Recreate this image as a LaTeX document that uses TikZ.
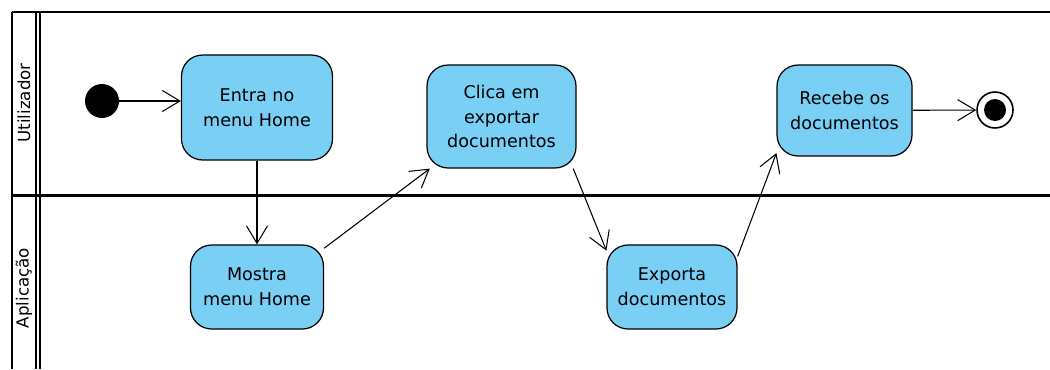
\documentclass[tikz,border=0pt]{standalone}
\usepackage{fontspec}
\setmainfont{DejaVu Sans}
\usetikzlibrary{arrows.meta, positioning}
\definecolor{actblue}{RGB}{122,207,244}

\begin{document}
\begin{tikzpicture}[
            x=0.02cm, y=-0.02cm,
            action/.style={
                rectangle, draw, line width=0.7pt, fill=actblue,
                rounded corners=12pt, align=center, inner sep=0pt,
                font=\fontsize{10}{14}\selectfont
            },
            lanelabel/.style={rotate=90, font=\fontsize{9.5}{11}\selectfont},
            flow/.style={-{Straight Barb[length=10pt, width=12pt]}, line width=0.6pt}
        ]
        \useasboundingbox (0, 0) rectangle (1050, 369);

        % swimlanes
        \draw[line width=1.1pt] (12, 12) -- (1050, 12);
        \draw[line width=1.7pt] (12, 195) -- (1050, 195);
        \draw[line width=1.1pt] (12, 12) -- (12, 369);
        \draw[line width=0.7pt] (36, 12) -- (36, 369);
        \draw[line width=1.7pt] (40, 12) -- (40, 369);
        \node[lanelabel] (laneU) at (24, 103) {Utilizador};
        \node[lanelabel] (laneA) at (24, 288) {Aplicação};

        % start / end
        \node[circle, fill=black, minimum size=0.68cm, inner sep=0pt] (init) at (102, 101) {};
        \node[circle, draw, line width=0.9pt, fill=white, minimum size=0.72cm, inner sep=0pt] (fim) at (995, 110) {};
        \fill (fim.center) circle (11);

        % actions
        \node[action, minimum width=3.02cm, minimum height=2.10cm] (entra) at (257, 107.5) {Entra no\\menu Home};
        \node[action, minimum width=2.66cm, minimum height=1.68cm] (mostra) at (257, 287) {Mostra\\menu Home};
        \node[action, minimum width=2.98cm, minimum height=2.06cm] (clica) at (501.5, 116.5) {Clica em\\exportar\\documentos};
        \node[action, minimum width=2.60cm, minimum height=1.68cm] (exporta) at (672, 287) {Exporta\\documentos};
        \node[action, minimum width=2.70cm, minimum height=1.82cm] (recebe) at (844.5, 110.5) {Recebe os\\documentos};

        % flows
        \draw[flow] (init) -- (init -| entra.west);
        \draw[flow] (entra) -- (mostra);
        \draw[flow] (mostra.30) -- (clica.216);
        \draw[flow] (clica.-36) -- (exporta.151);
        \draw[flow] (exporta.25) -- (recebe.212);
        \draw[flow] (recebe) -- (fim);
    \end{tikzpicture}
\end{document}
